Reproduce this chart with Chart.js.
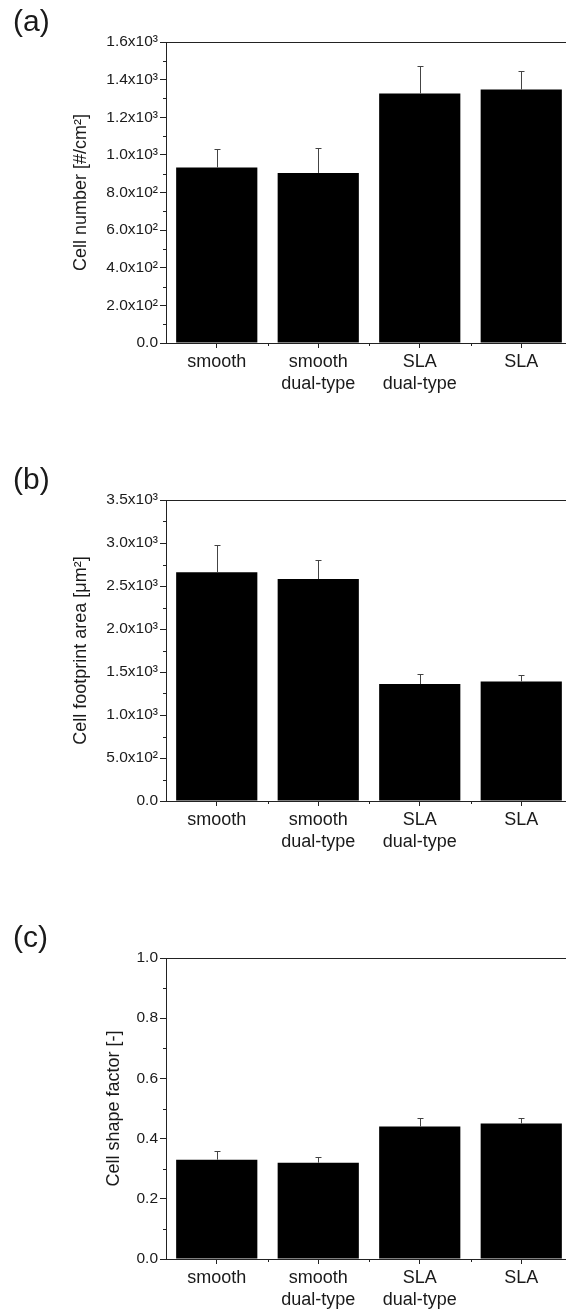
<!DOCTYPE html>
<html>
<head>
<meta charset="utf-8">
<title>Cell number, footprint area and shape factor</title>
<script src="https://cdn.jsdelivr.net/npm/chart.js@4.4.1/dist/chart.umd.min.js"></script>
<style>
  body { margin: 0; background: #fff; overflow: hidden; }
  #wrap { position: relative; width: 566px; height: 1315px; overflow: hidden; }
  #wrap canvas { position: absolute; left: 0; }
</style>
</head>
<body>
<div id="wrap">
  <canvas id="chartA" width="580" height="458" style="top:0px"></canvas>
  <canvas id="chartB" width="580" height="458" style="top:458px"></canvas>
  <canvas id="chartC" width="580" height="458" style="top:916px"></canvas>
</div>
<script>
// x axis categories (multi-line labels as arrays):
const categories = ['smooth', ['smooth', 'dual-type'], ['SLA', 'dual-type'], 'SLA'];

// (a) cell number, mean and standard deviation:
const cellNumber = [933, 904, 1326, 1347];
const cellNumberErr = [96, 133, 147, 101];
const cellNumberTicks = ['0.0', '2.0x10²', '4.0x10²', '6.0x10²', '8.0x10²',
  '1.0x10³', '1.2x10³', '1.4x10³', '1.6x10³'];

// (b) cell footprint area:
const footprintArea = [2660, 2580, 1360, 1390];
const footprintAreaErr = [315, 217, 118, 73];
const footprintAreaTicks = ['0.0', '5.0x10²', '1.0x10³', '1.5x10³', '2.0x10³',
  '2.5x10³', '3.0x10³', '3.5x10³'];

// (c) cell shape factor:
const shapeFactor = [0.33, 0.32, 0.44, 0.45];
const shapeFactorErr = [0.03, 0.02, 0.03, 0.02];
const shapeFactorTicks = ['0.0', '0.2', '0.4', '0.6', '0.8', '1.0'];

const fontFamily = '"Liberation Sans", Arial, Helvetica, sans-serif';
const axisColor = '#222';
const textColor = '#1a1a1a';

// draws the upper half of each error bar, with a small cap:
const errorBars = {
  id: 'errorBars',
  afterDatasetsDraw(chart) {
    const ctx = chart.ctx;
    const yScale = chart.scales.y;
    chart.data.datasets.forEach((ds, di) => {
      const meta = chart.getDatasetMeta(di);
      meta.data.forEach((bar, i) => {
        const x = Math.round(bar.x) + 0.5;
        const yTop = Math.round(yScale.getPixelForValue(ds.data[i] + ds.errors[i])) + 0.5;
        ctx.save();
        ctx.strokeStyle = '#444';
        ctx.lineWidth = 1;
        ctx.beginPath();
        ctx.moveTo(x, bar.y);
        ctx.lineTo(x, yTop);
        ctx.moveTo(x - 3, yTop);
        ctx.lineTo(x + 3, yTop);
        ctx.stroke();
        ctx.restore();
      });
    });
  }
};

// top frame line plus the short minor ticks on both axes:
const frameAndMinorTicks = {
  id: 'frameAndMinorTicks',
  afterDraw(chart) {
    const ctx = chart.ctx;
    const area = chart.chartArea;
    const xScale = chart.scales.x;
    const yScale = chart.scales.y;
    ctx.save();
    ctx.strokeStyle = axisColor;
    ctx.lineWidth = 1;
    ctx.beginPath();
    // top line of the frame:
    const top = Math.round(area.top) + 0.5;
    ctx.moveTo(area.left, top);
    ctx.lineTo(area.right, top);
    // minor y ticks halfway between the major ones:
    const ticks = yScale.ticks;
    for (let i = 0; i < ticks.length - 1; i++) {
      const y = Math.round(yScale.getPixelForValue((ticks[i].value + ticks[i + 1].value) / 2)) + 0.5;
      ctx.moveTo(area.left - 3, y);
      ctx.lineTo(area.left, y);
    }
    // minor x ticks on the category boundaries:
    const bottom = Math.round(area.bottom);
    for (let i = 0; i < categories.length; i++) {
      const x = Math.round(xScale.getPixelForValue(i + 0.5)) + 0.5;
      ctx.moveTo(x, bottom);
      ctx.lineTo(x, bottom + 3);
    }
    ctx.stroke();
    ctx.restore();
  }
};

function makeChart(canvasId, letter, axisTitle, values, errors, maxValue, step, tickLabels, titleOffset) {
  return new Chart(document.getElementById(canvasId), {
    type: 'bar',
    data: {
      labels: categories,
      datasets: [{
        data: values,
        errors: errors,
        backgroundColor: '#000',
        borderWidth: 0,
        barPercentage: 0.8,
        categoryPercentage: 1.0
      }]
    },
    options: {
      responsive: false,
      animation: false,
      devicePixelRatio: 1,
      layout: { padding: { left: 13, right: 8, top: 0, bottom: 0 } },
      plugins: {
        legend: { display: false },
        tooltip: { enabled: false },
        title: {
          display: true,
          text: letter,
          align: 'start',
          color: textColor,
          font: { family: fontFamily, size: 30, weight: 'normal', lineHeight: 1.2 },
          padding: { top: 4.5, bottom: 1.5 }
        }
      },
      scales: {
        x: {
          grid: {
            drawOnChartArea: false,
            offset: false,
            tickLength: 5,
            tickColor: axisColor
          },
          border: { color: axisColor, width: 1 },
          ticks: {
            color: textColor,
            padding: 3,
            maxRotation: 0,
            autoSkip: false,
            font: { family: fontFamily, size: 18, lineHeight: 1.22 }
          },
          afterFit(scale) { scale.height = 115; }
        },
        y: {
          min: 0,
          max: maxValue,
          grid: {
            drawOnChartArea: false,
            tickLength: 6,
            tickColor: axisColor
          },
          border: { color: axisColor, width: 1 },
          ticks: {
            stepSize: step,
            color: textColor,
            padding: 2,
            autoSkip: false,
            font: { family: fontFamily, size: 15.5 },
            callback: (value, index) => tickLabels[index]
          },
          title: {
            display: true,
            text: axisTitle,
            color: textColor,
            font: { family: fontFamily, size: 18, lineHeight: 1.2 },
            padding: { top: titleOffset, bottom: 0 }
          },
          afterFit(scale) { scale.width = 153; }
        }
      }
    },
    plugins: [errorBars, frameAndMinorTicks]
  });
}

makeChart('chartA', '(a)', 'Cell number [#/cm²]', cellNumber, cellNumberErr, 1600, 200, cellNumberTicks, 57);
makeChart('chartB', '(b)', 'Cell footprint area [μm²]', footprintArea, footprintAreaErr, 3500, 500, footprintAreaTicks, 57);
makeChart('chartC', '(c)', 'Cell shape factor [-]', shapeFactor, shapeFactorErr, 1.0, 0.2, shapeFactorTicks, 90);
</script>
</body>
</html>
